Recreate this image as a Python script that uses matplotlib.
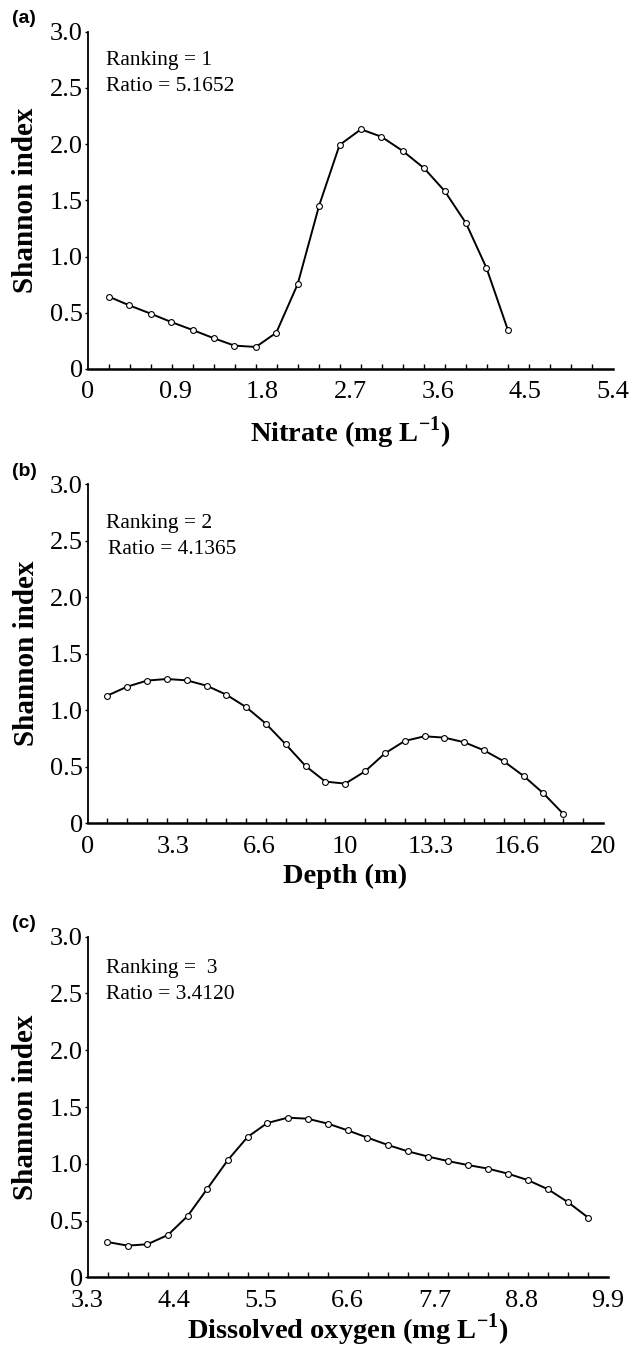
import numpy as np
import matplotlib
matplotlib.use("Agg")
import matplotlib.pyplot as plt

# === DATOS ===
nitrate_x = [0.22, 0.43, 0.65, 0.86, 1.08, 1.30, 1.51, 1.73, 1.94, 2.16,
             2.38, 2.59, 2.81, 3.02, 3.24, 3.46, 3.67, 3.89, 4.10, 4.32]
nitrate_y = [0.643, 0.566, 0.492, 0.418, 0.347, 0.273, 0.208, 0.196, 0.323, 0.756,
             1.453, 1.992, 2.132, 2.066, 1.939, 1.785, 1.583, 1.296, 0.898, 0.347]

depth_x = [0.77, 1.54, 2.31, 3.08, 3.85, 4.62, 5.38, 6.15, 6.92, 7.69, 8.46, 9.23,
           10.00, 10.77, 11.54, 12.31, 13.08, 13.85, 14.62, 15.38, 16.15, 16.92, 17.69, 18.46]
depth_y = [1.130, 1.209, 1.263, 1.277, 1.265, 1.218, 1.139, 1.029, 0.882, 0.699, 0.507, 0.369,
           0.351, 0.460, 0.619, 0.729, 0.770, 0.758, 0.717, 0.646, 0.549, 0.419, 0.265, 0.083]

oxygen_x = [3.55, 3.81, 4.06, 4.32, 4.57, 4.82, 5.08, 5.33, 5.58, 5.84, 6.09, 6.35, 6.60,
            6.85, 7.11, 7.36, 7.62, 7.87, 8.12, 8.38, 8.63, 8.88, 9.14, 9.39, 9.65]
oxygen_y = [0.311, 0.279, 0.291, 0.373, 0.540, 0.781, 1.033, 1.236, 1.359, 1.406, 1.397, 1.353, 1.294,
            1.230, 1.165, 1.110, 1.063, 1.024, 0.989, 0.957, 0.913, 0.857, 0.775, 0.663, 0.525]

y_ticks = [0, 0.5, 1.0, 1.5, 2.0, 2.5, 3.0]
y_labels = ["0", "0.5", "1.0", "1.5", "2.0", "2.5", "3.0"]

nitrate_ticks = [0, 0.9, 1.8, 2.7, 3.6, 4.5, 5.4]
nitrate_labels = ["0", "0.9", "1.8", "2.7", "3.6", "4.5", "5.4"]
depth_ticks = [0, 3.333, 6.667, 10, 13.333, 16.667, 20]
depth_labels = ["0", "3.3", "6.6", "10", "13.3", "16.6", "20"]
oxygen_ticks = [3.3, 4.4, 5.5, 6.6, 7.7, 8.8, 9.9]
oxygen_labels = ["3.3", "4.4", "5.5", "6.6", "7.7", "8.8", "9.9"]

# === ESTILO ===
plt.rcParams["font.family"] = ["Liberation Serif", "DejaVu Serif"]
plt.rcParams["mathtext.fontset"] = "custom"
plt.rcParams["mathtext.rm"] = "Liberation Serif"
plt.rcParams["mathtext.bf"] = "Liberation Serif:bold"

W, H = 633, 1349
fig = plt.figure(figsize=(W / 100, H / 100), dpi=100)

panels = [
    # (tag, x, y, xticks, xlabels, xlim, nminor, xlabel, ranking, ratio,
    #  rect_px, text_y, ratio_dx, xlabel_y)
    ("(a)", nitrate_x, nitrate_y, nitrate_ticks, nitrate_labels, (0, 5.4), 25,
     r"Nitrate (mg L$^{\mathbf{-1}}$)", "Ranking = 1", "Ratio = 5.1652",
     (87.5, 31.7, 613, 369), (2.74, 2.51), 0.0, -0.135),
    ("(b)", depth_x, depth_y, depth_ticks, depth_labels, (0, 20), 26,
     "Depth (m)", "Ranking = 2", "Ratio = 4.1365",
     (87.5, 484.3, 603, 823.3), (2.65, 2.42), 0.004, -0.12),
    ("(c)", oxygen_x, oxygen_y, oxygen_ticks, oxygen_labels, (3.3, 9.9), 26,
     r"Dissolved oxygen (mg L$^{\mathbf{-1}}$)", "Ranking =  3", "Ratio = 3.4120",
     (87.5, 936.7, 608, 1277.3), (2.72, 2.49), 0.0, -0.1),
]

for tag, xs, ys, xt, xl, xlim, nminor, xlabel, rank, ratio, rect, ty, dx, xly in panels:
    x0, y0, x1, y1 = rect
    ax = fig.add_axes([x0 / W, 1 - y1 / H, (x1 - x0) / W, (y1 - y0) / H])

    ax.plot(xs, ys, color="black", lw=1.4, marker="o", ms=4.2,
            mfc="white", mec="black", mew=0.8, clip_on=False, zorder=3)

    ax.set_xlim(*xlim)
    ax.set_ylim(0, 3.0)
    ax.set_xticks(xt)
    ax.set_xticklabels(xl)
    ax.set_xticks(np.linspace(xlim[0], xlim[1], nminor + 1)[1:], minor=True)
    ax.set_yticks(y_ticks)
    ax.set_yticklabels(y_labels)

    for s in ["top", "right"]:
        ax.spines[s].set_visible(False)
    ax.spines["left"].set_linewidth(1.3)
    ax.spines["bottom"].set_linewidth(1.8)

    ax.tick_params(axis="x", which="major", length=0, pad=9, labelsize=19)
    ax.tick_params(axis="x", which="minor", direction="in", length=3.5, width=1.0)
    ax.tick_params(axis="y", which="major", direction="out", length=2.5, width=1.0,
                   pad=1, labelsize=19)

    ax.set_ylabel("Shannon index", fontsize=21, fontweight="bold")
    ax.yaxis.set_label_coords(-0.093, 0.5)
    ax.set_xlabel(xlabel, fontsize=20.5, fontweight="bold")
    ax.xaxis.set_label_coords(0.5, xly)

    ax.text(0.036, ty[0], rank, transform=ax.get_yaxis_transform(),
            fontsize=15.5, va="center", ha="left")
    ax.text(0.036 + dx, ty[1], ratio, transform=ax.get_yaxis_transform(),
            fontsize=15.5, va="center", ha="left")

    fig.text(12 / W, 1 - (y0 - 13) / H, tag, family=["Liberation Sans", "DejaVu Sans"],
             fontsize=14, fontweight="bold", va="center", ha="left")

fig.savefig("out.png", dpi=100)
print("[OK] out.png")
